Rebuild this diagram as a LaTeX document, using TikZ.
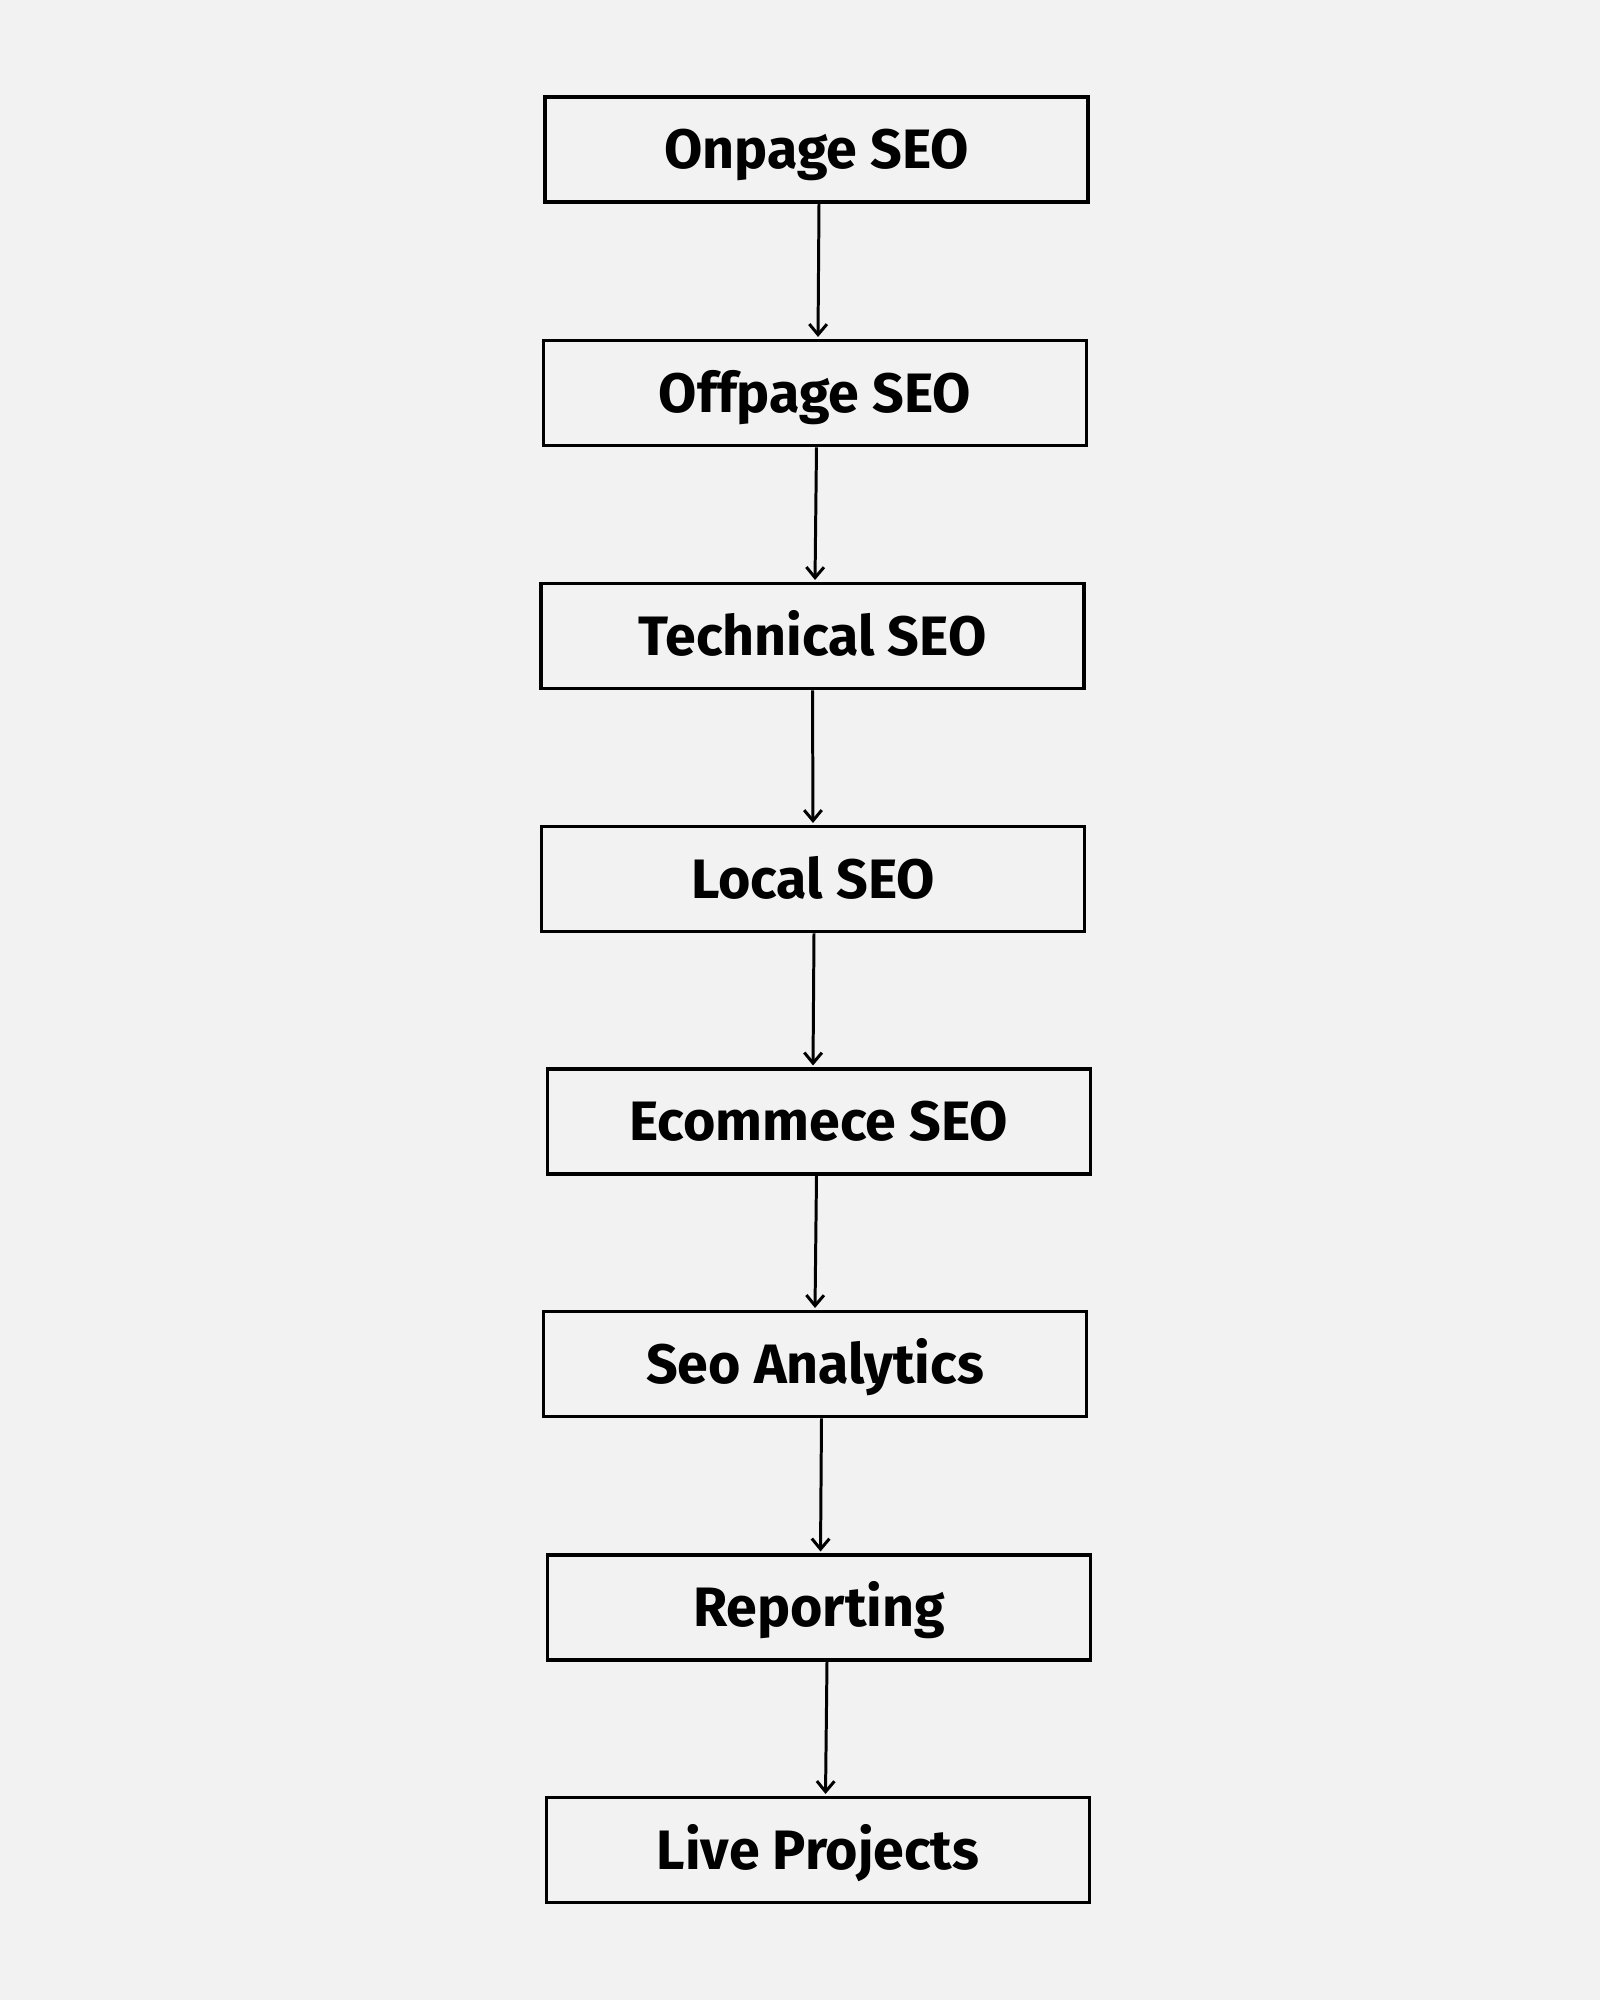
\documentclass[tikz,border=0pt]{standalone}
\usepackage{fontspec}
\setmainfont{Fira Sans}
\usepackage{tikz}
\usetikzlibrary{arrows.meta}

\definecolor{pagebg}{HTML}{F2F2F2}

\begin{document}
\begin{tikzpicture}[
    stage/.style={draw=black, line width=1pt, minimum width=5.43cm, minimum height=1.05cm,
        inner sep=0pt, text height=10.9pt, text depth=0pt,
        font=\bfseries\fontsize{15.8}{18}\selectfont},
    flow/.style={-{Straight Barb[length=3pt, width=5pt]}, line width=0.85pt, shorten >=0.5pt}
]
    % Page and its margins
    \fill[pagebg] (0,0) rectangle (16,-20);
    \useasboundingbox (0,0) rectangle (16,-20);

    % The stages, one below the other
    \node[stage] (s1) at (8.165, -1.495) {Onpage SEO};
    \node[stage] (s2) at (8.15, -3.93) {Offpage SEO};
    \node[stage] (s3) at (8.125, -6.36) {Technical SEO};
    \node[stage] (s4) at (8.13, -8.79) {Local SEO};
    \node[stage] (s5) at (8.19, -11.215) {Ecommece SEO};
    \node[stage] (s6) at (8.15, -13.64) {Seo Analytics};
    \node[stage] (s7) at (8.19, -16.075) {Reporting};
    \node[stage] (s8) at (8.18, -18.50) {Live Projects};

    % Arrows between the stages
    \draw[flow] ([xshift=0.025cm]s1.south) -- ([xshift=0.03cm]s2.north);
    \draw[flow] ([xshift=0.015cm]s2.south) -- ([xshift=0.025cm]s3.north);
    \draw[flow] (s3.south) -- (s4.north);
    \draw[flow] ([xshift=0.01cm]s4.south) -- ([xshift=-0.06cm]s5.north);
    \draw[flow] ([xshift=-0.025cm]s5.south) -- (s6.north);
    \draw[flow] ([xshift=0.065cm]s6.south) -- ([xshift=0.015cm]s7.north);
    \draw[flow] ([xshift=0.08cm]s7.south) -- ([xshift=0.075cm]s8.north);
\end{tikzpicture}
\end{document}
